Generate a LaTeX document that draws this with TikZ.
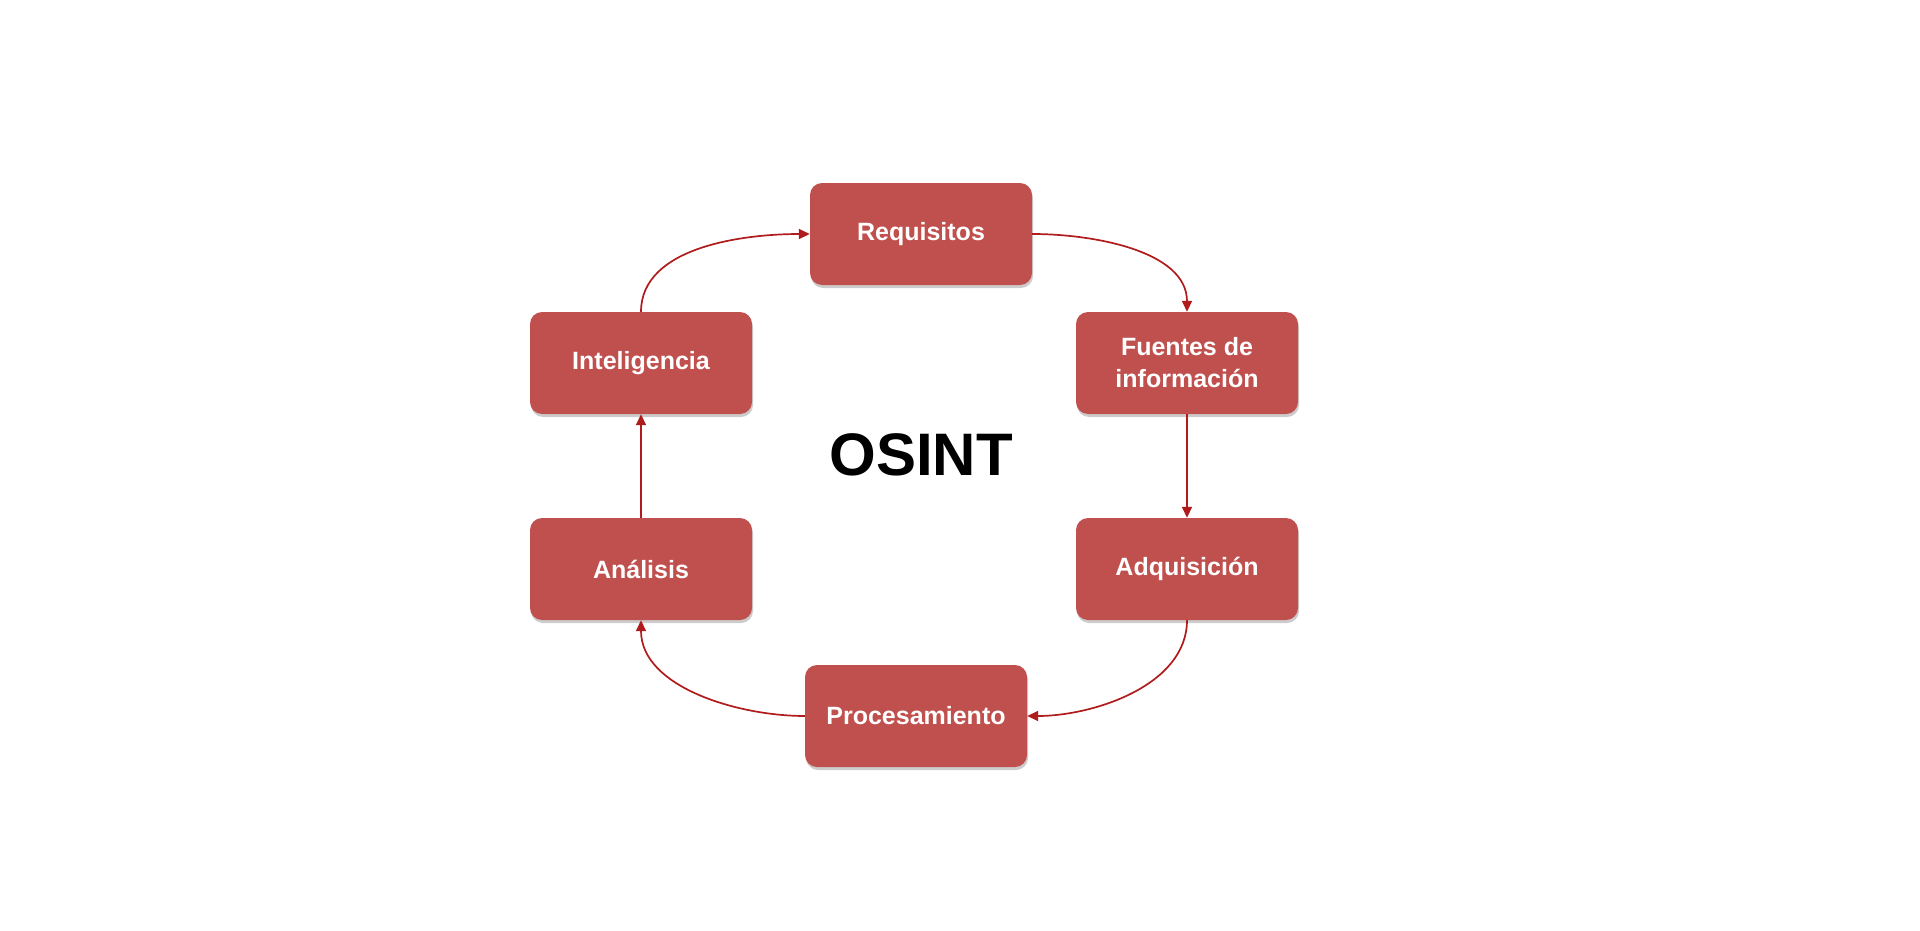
\documentclass[tikz,border=0pt]{standalone}
\usepackage{fontspec}
\setmainfont{Liberation Sans}
\usetikzlibrary{arrows.meta,shadows}
\definecolor{boxred}{HTML}{C0504D}
\definecolor{arrred}{HTML}{B01C1C}
\begin{document}
\begin{tikzpicture}[x=1pt,y=-1pt,
  stepbox/.style={rectangle, rounded corners=12pt, fill=boxred, minimum width=222pt, minimum height=102pt,
    text=white, font=\fontsize{25}{32}\selectfont\bfseries, align=center, inner sep=0pt,
    drop shadow={shadow xshift=1pt, shadow yshift=-3pt, opacity=0.4, fill=gray}},
  conn/.style={draw=arrred, line width=1.7pt, -{Triangle[length=11pt,width=10pt]}}]
\useasboundingbox (0,0) rectangle (1920,931);
\node[stepbox] (req) at (921,234) {Requisitos};
\node[stepbox] (fue) at (1187,363) {Fuentes de\\información};
\node[stepbox] (adq) at (1187,569) {Adquisición};
\node[stepbox] (pro) at (916,716) {Procesamiento};
\node[stepbox] (ana) at (641,569) {Análisis};
\node[stepbox] (int) at (641,363) {Inteligencia};
\node[font=\fontsize{60}{60}\selectfont\bfseries] (osint) at (921,455) {OSINT};
\draw[conn] (req.east) to[out=0,in=90,looseness=0.9] (fue.north);
\draw[conn] (fue.south) -- (adq.north);
\draw[conn] (adq.south) to[out=-90,in=0,looseness=0.9] (pro.east);
\draw[conn] (pro.west) to[out=180,in=-90,looseness=0.9] (ana.south);
\draw[conn] (ana.north) -- (int.south);
\draw[conn] (int.north) to[out=90,in=180,looseness=0.9] (req.west);
\end{tikzpicture}
\end{document}
